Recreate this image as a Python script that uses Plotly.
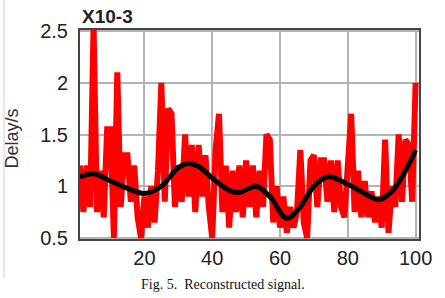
import plotly.graph_objects as go

# sample index
x_vals = list(range(1, 101))
# reconstructed signal (units of 1e-3 s)
red_vals = [
    1.20, 0.75, 1.20, 0.80, 2.55, 0.75, 1.15, 0.70, 1.55, 1.55,
    0.50, 2.10, 0.80, 1.30, 1.30, 0.85, 1.20, 0.70, 0.50, 0.90,
    0.60, 1.00, 0.65, 1.15, 2.00, 0.85, 1.75, 1.70, 0.80, 1.20,
    0.85, 1.50, 0.90, 1.40, 0.75, 1.40, 0.90, 1.30, 0.80, 0.50,
    1.35, 1.70, 0.75, 1.20, 0.60, 1.15, 0.75, 1.20, 0.70, 1.25,
    0.80, 1.20, 0.70, 1.15, 0.80, 1.50, 1.45, 0.65, 1.00, 0.60,
    0.90, 0.55, 0.80, 0.60, 0.75, 1.35, 0.65, 0.50, 1.25, 1.30,
    0.80, 1.25, 1.25, 0.85, 1.25, 0.75, 1.25, 0.80, 0.70, 1.20,
    1.70, 0.75, 1.15, 0.70, 1.05, 0.70, 0.95, 0.65, 0.90, 0.60,
    1.45, 0.55, 1.00, 0.80, 1.50, 0.85, 1.45, 1.40, 0.85, 2.00,
]
# smooth trend
trend_x = [1, 5, 10, 15, 20, 25, 30, 33, 36, 40, 45, 48, 53, 57, 62, 66, 70, 74, 80, 85, 89, 93, 97, 100]
trend_y = [1.09, 1.12, 1.05, 0.98, 0.93, 1.00, 1.18, 1.22, 1.19, 1.08, 0.96, 0.94, 1.00, 0.90, 0.69, 0.80, 1.00, 1.09, 1.02, 0.93, 0.87, 0.95, 1.15, 1.35]

x_ticks = [20, 40, 60, 80, 100]
y_ticks = [0.5, 1, 1.5, 2, 2.5]
y_tick_text = ["0.5", "1", "1.5", "2", "2.5"]

fig = go.Figure()
fig.add_trace(go.Scatter(x=x_vals, y=red_vals, mode="lines",
                         line=dict(color="#ff0000", width=6), showlegend=False))
fig.add_trace(go.Scatter(x=trend_x, y=trend_y, mode="lines",
                         line=dict(color="#000000", width=5, shape="spline", smoothing=1.0),
                         showlegend=False))

fig.update_layout(
    width=445, height=298,
    margin=dict(l=80, r=26, t=30, b=59),
    paper_bgcolor="white", plot_bgcolor="white",
    font=dict(family="Liberation Sans, Arial", color="#222222"),
    xaxis=dict(range=[1, 101], tickvals=x_ticks, showgrid=True, gridcolor="#b4b4b4", gridwidth=1.5,
               showline=True, linecolor="#444444", linewidth=2, mirror=True, zeroline=False,
               ticks="", tickfont=dict(size=20, color="#222222")),
    yaxis=dict(range=[0.49, 2.51], tickvals=y_ticks, ticktext=y_tick_text, showgrid=True,
               gridcolor="#b4b4b4", gridwidth=1.5, showline=True, linecolor="#444444", linewidth=2,
               mirror=True, zeroline=False, ticks="", ticklabelstandoff=6,
               tickfont=dict(size=20, color="#222222")),
)

# thin page border line at the far left
fig.add_shape(type="line", xref="paper", yref="paper", x0=-0.224, x1=-0.224, y0=-0.19, y1=1.15,
              line=dict(color="#d0d0d0", width=1))

fig.add_annotation(text="<b>X10-3</b>", xref="paper", yref="paper", x=0, y=1, xanchor="left",
                   yanchor="bottom", yshift=1, showarrow=False,
                   font=dict(size=19, color="#222222", family="Liberation Sans, Arial"))
fig.add_annotation(text="Delay/s", xref="paper", yref="paper", x=0, y=0.5, xanchor="center",
                   yanchor="middle", xshift=-69, yshift=-4, textangle=-90, showarrow=False,
                   font=dict(size=18, color="#333333", family="Liberation Sans, Arial"))
fig.add_annotation(text="Fig. 5.  Reconstructed signal.", xref="paper", yref="paper", x=0.5,
                   y=0, xanchor="center", yanchor="top", xshift=-27, yshift=-36, showarrow=False,
                   font=dict(size=14, color="#111111", family="Liberation Serif, Times New Roman"))

fig.write_html("out.html")
